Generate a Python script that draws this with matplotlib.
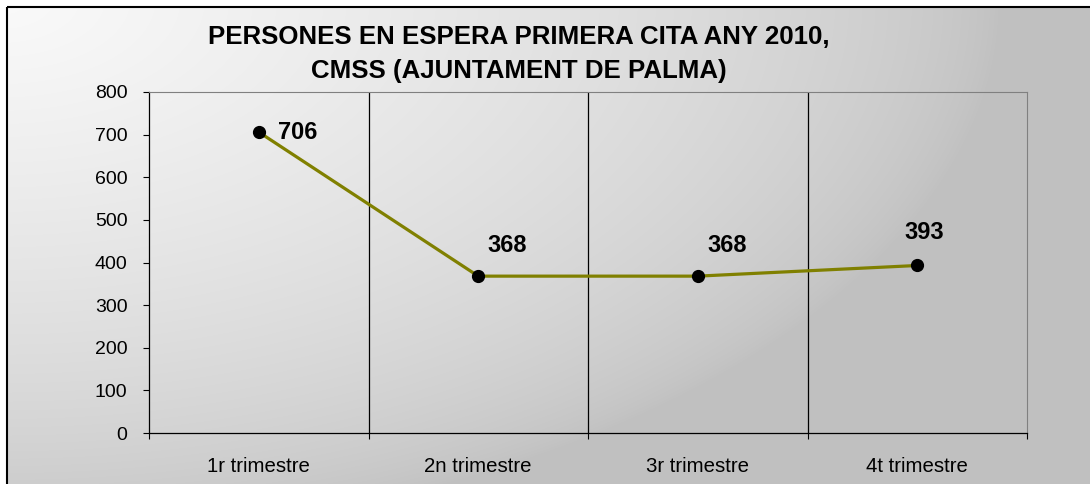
import numpy as np
import matplotlib
matplotlib.use("Agg")
import matplotlib.pyplot as plt
from matplotlib.patches import Rectangle

plt.rcParams['font.family'] = ['Liberation Sans', 'DejaVu Sans']

# data
categories = ["1r trimestre", "2n trimestre", "3r trimestre", "4t trimestre"]
values = [706, 368, 368, 393]
title = "PERSONES EN ESPERA PRIMERA CITA ANY 2010,\nCMSS (AJUNTAMENT DE PALMA)"

W, H = 1090, 484
fig = plt.figure(figsize=(W / 100, H / 100), dpi=100)

# background gradient (radial from top-left, Excel style)
bg = fig.add_axes([0, 0, 1, 1], zorder=0)
yy, xx = np.mgrid[0:H, 0:W]
d = np.sqrt((xx / 1000.0) ** 2 + (yy / 540.0) ** 2)
g = 192 + (250 - 192) * np.clip(1 - d, 0, 1) ** 0.65
g = g / 255.0
img = np.dstack([g, g, g])
img[:7, :, :] = 1.0
img[:, :7, :] = 1.0
bg.imshow(img, extent=[0, W, H, 0], aspect="auto", interpolation="bilinear")
bg.add_patch(Rectangle((7, 7), W + 10, H + 10, fill=False, edgecolor="black", lw=1.5))
bg.set_xlim(0, W)
bg.set_ylim(H, 0)
bg.axis("off")

ax = fig.add_axes([149 / W, 1 - 433 / H, (1027 - 149) / W, (433 - 92) / H], zorder=1)
ax.patch.set_alpha(0)

x = np.arange(len(categories))
ax.plot(x, values, color="#808000", lw=2.3, marker="o", markersize=8.5,
        markerfacecolor="black", markeredgecolor="black", zorder=3)

# label offsets in points (dx, dy)
offsets = [(14, 0), (21, 22), (21, 22), (5, 24)]
for xi, v, (dx, dy), ha in zip(x, values, offsets, ["left", "center", "center", "center"]):
    ax.annotate(str(v), (xi, v), xytext=(dx, dy), textcoords="offset points",
                ha=ha, va="center", fontsize=17, fontweight="bold")

ax.set_xlim(-0.5, len(categories) - 0.5)
ax.set_ylim(0, 800)
ax.set_yticks(range(0, 801, 100))
ax.tick_params(axis="y", direction="out", length=4.5, width=0.8, pad=11, labelsize=14)
ax.set_xticks(x)
ax.set_xticklabels(categories)
ax.tick_params(axis="x", which="major", length=0, pad=17, labelsize=14.7)
ax.set_xticks(np.arange(-0.5, len(categories), 1.0), minor=True)
ax.tick_params(axis="x", which="minor", direction="out", length=4.5, width=0.8)

for b in np.arange(0.5, len(categories) - 1, 1.0):
    ax.axvline(b, color="black", lw=0.9, zorder=1)

ax.spines["left"].set_color("black")
ax.spines["bottom"].set_color("black")
ax.spines["left"].set_linewidth(0.9)
ax.spines["bottom"].set_linewidth(0.9)
ax.spines["top"].set_color("#808080")
ax.spines["right"].set_color("#808080")

fig.text(519 / W, 1 - 54 / H, title, ha="center", va="center", fontsize=18.6,
         fontweight="bold", linespacing=1.5)

fig.savefig("out.png", dpi=100)
